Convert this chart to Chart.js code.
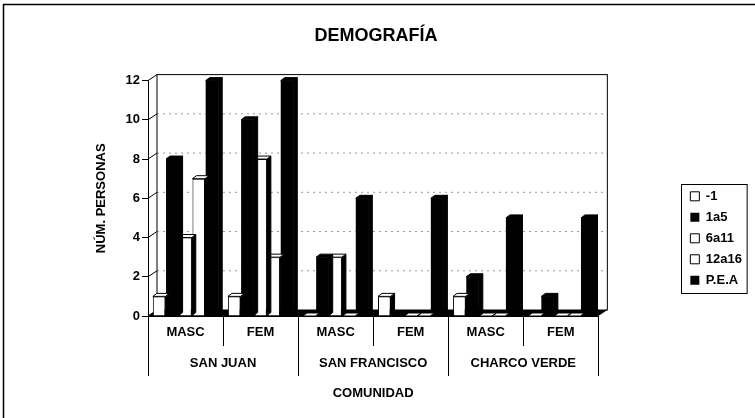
<!DOCTYPE html>
<html>
<head>
<meta charset="utf-8">
<script src="https://cdn.jsdelivr.net/npm/chart.js@4.4.1/dist/chart.umd.min.js"></script>
<style>
  html, body { margin: 0; padding: 0; background: #fff; }
</style>
</head>
<body>
<canvas id="demografiaChart" width="755" height="418"></canvas>
<script>
// datos
const generos = ["MASC", "FEM", "MASC", "FEM", "MASC", "FEM"];
const comunidades = ["SAN JUAN", "SAN FRANCISCO", "CHARCO VERDE"];
const series = ["-1", "1a5", "6a11", "12a16", "P.E.A"];
const menos1 = [1, 1, 0, 1, 1, 0];
const de1a5 = [8, 10, 3, 0, 2, 1];
const de6a11 = [4, 8, 3, 0, 0, 0];
const de12a16 = [7, 3, 0, 0, 0, 0];
const pea = [12, 12, 6, 6, 5, 5];
const ticksY = [0, 2, 4, 6, 8, 10, 12];

const PROF = 9, PROFY = 6;   // fondo de las paredes
const BARX = 4, BARY = 3;    // fondo de cada barra

const fuente = '"Liberation Sans", Arial, sans-serif';
Chart.defaults.font.family = fuente;
Chart.defaults.font.weight = "bold";
Chart.defaults.font.size = 13;
Chart.defaults.color = "#000";

function linea(ctx, x1, y1, x2, y2) {
    ctx.beginPath();
    ctx.moveTo(x1, y1);
    ctx.lineTo(x2, y2);
    ctx.stroke();
}

const efecto3d = {
    id: "efecto3d",
    beforeDraw(chart) {
        const ctx = chart.ctx;
        ctx.save();
        ctx.fillStyle = "#fff";
        ctx.fillRect(0, 0, chart.width, chart.height);
        ctx.strokeStyle = "#000";
        ctx.lineWidth = 1.5;
        ctx.strokeRect(3.5, 4.5, chart.width + 20, chart.height + 20);
        ctx.restore();
    },
    beforeDatasetsDraw(chart) {
        const ctx = chart.ctx;
        const a = chart.chartArea;
        const y = chart.scales.y;
        ctx.save();
        ctx.lineWidth = 1;
        // lineas de division en la pared del fondo
        ctx.strokeStyle = "#999";
        ctx.setLineDash([2, 4]);
        y.ticks.forEach(t => {
            const py = y.getPixelForValue(t.value);
            if (t.value > 0 && t.value < 12) linea(ctx, a.left + PROF, py - PROFY, a.right + PROF, py - PROFY);
        });
        ctx.setLineDash([]);
        ctx.strokeStyle = "#000";
        y.ticks.forEach(t => {
            const py = y.getPixelForValue(t.value);
            linea(ctx, a.left, py, a.left + PROF, py - PROFY);
        });
        ctx.strokeRect(a.left + PROF, a.top - PROFY, a.right - a.left, a.bottom - a.top);
        // piso
        ctx.fillStyle = "#000";
        ctx.beginPath();
        ctx.moveTo(a.left, a.bottom);
        ctx.lineTo(a.right, a.bottom);
        ctx.lineTo(a.right + PROF, a.bottom - PROFY);
        ctx.lineTo(a.left + PROF, a.bottom - PROFY);
        ctx.closePath();
        ctx.fill();
        ctx.restore();
    },
    afterDatasetDraw(chart, args) {
        const ctx = chart.ctx;
        const ds = chart.data.datasets[args.index];
        ctx.save();
        ctx.lineWidth = 1;
        ctx.strokeStyle = "#000";
        args.meta.data.forEach(bar => {
            const p = bar.getProps(["x", "y", "base", "width"], true);
            const l = p.x - p.width / 2, r = p.x + p.width / 2;
            ctx.fillStyle = "#000";
            ctx.beginPath();
            ctx.moveTo(r, p.y);
            ctx.lineTo(r + BARX, p.y - BARY);
            ctx.lineTo(r + BARX, p.base - BARY);
            ctx.lineTo(r, p.base);
            ctx.closePath();
            ctx.fill();
            ctx.stroke();
            ctx.fillStyle = ds.backgroundColor;
            ctx.beginPath();
            ctx.moveTo(l, p.y);
            ctx.lineTo(l + BARX, p.y - BARY);
            ctx.lineTo(r + BARX, p.y - BARY);
            ctx.lineTo(r, p.y);
            ctx.closePath();
            ctx.fill();
            ctx.stroke();
        });
        ctx.restore();
    },
    afterDraw(chart) {
        // recuadro de la leyenda
        const cajas = chart.legend.legendHitBoxes;
        if (!cajas || !cajas.length) return;
        let x1 = Infinity, y1 = Infinity, x2 = -Infinity, y2 = -Infinity;
        cajas.forEach(c => {
            x1 = Math.min(x1, c.left); y1 = Math.min(y1, c.top);
            x2 = Math.max(x2, c.left + c.width); y2 = Math.max(y2, c.top + c.height);
        });
        const ctx = chart.ctx;
        ctx.save();
        ctx.strokeStyle = "#000";
        ctx.lineWidth = 1;
        ctx.strokeRect(Math.round(x1 - 9) + 0.5, Math.round(y1 - 6) + 0.5, x2 - x1 + 14, y2 - y1 + 12);
        ctx.restore();
    }
};

function barra(nombre, datos, color) {
    return {
        label: nombre,
        data: datos,
        backgroundColor: color,
        borderColor: "#000",
        borderWidth: color === "#fff" ? 1 : 0,
        categoryPercentage: 0.88,
        barPercentage: 0.95
    };
}

function demografia() {
    const ctx = document.getElementById("demografiaChart").getContext("2d");
    new Chart(ctx, {
        type: "bar",
        data: {
            labels: generos,
            datasets: [
                barra(series[0], menos1, "#fff"),
                barra(series[1], de1a5, "#000"),
                barra(series[2], de6a11, "#fff"),
                barra(series[3], de12a16, "#fff"),
                barra(series[4], pea, "#000")
            ]
        },
        options: {
            responsive: false,
            animation: false,
            layout: { padding: { left: 0, right: 3, top: 0, bottom: 17 } },
            scales: {
                x: {
                    weight: 0,
                    offset: true,
                    grid: { offset: true, drawOnChartArea: false, tickLength: 30, color: "#000" },
                    border: { display: true, color: "#000" },
                    ticks: { padding: -21, maxRotation: 0, autoSkip: false },
                    afterFit(scale) { scale.height = 25; }
                },
                comunidad: {
                    type: "category",
                    labels: comunidades,
                    position: "bottom",
                    weight: 1,
                    offset: true,
                    grid: { offset: true, drawOnChartArea: false, tickLength: 35, color: "#000" },
                    border: { display: false },
                    ticks: { padding: -20, maxRotation: 0, autoSkip: false },
                    title: { display: true, text: "COMUNIDAD", padding: { top: 15, bottom: 0 } },
                    afterFit(scale) { scale.height = 60; }
                },
                y: {
                    min: ticksY[0],
                    max: ticksY[ticksY.length - 1],
                    ticks: { stepSize: 2, padding: 2 },
                    grid: { drawOnChartArea: false, tickLength: 6, color: "#000" },
                    border: { display: true, color: "#000" },
                    title: { display: true, text: "NÚM. PERSONAS", padding: { top: 94, bottom: 17 } },
                    afterFit(scale) { scale.width = 148; }
                },
                relleno: {
                    type: "linear",
                    position: "right",
                    grid: { display: false },
                    border: { display: false },
                    ticks: { display: false },
                    afterFit(scale) { scale.width = 84; }
                }
            },
            plugins: {
                title: {
                    display: true,
                    text: "DEMOGRAFÍA",
                    color: "#000",
                    font: { size: 18, weight: "bold" },
                    padding: { top: 25, bottom: 34 }
                },
                legend: {
                    position: "right",
                    title: { display: true, text: " ", padding: 30 },
                    labels: { boxWidth: 9, boxHeight: 9, padding: 8, color: "#000" }
                },
                tooltip: { enabled: false }
            }
        },
        plugins: [efecto3d]
    });
}

demografia();
</script>
</body>
</html>
